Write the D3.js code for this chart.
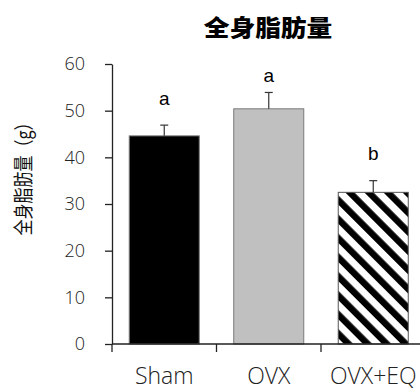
<!DOCTYPE html>
<html>
<head>
<meta charset="utf-8">
<script src="https://cdn.jsdelivr.net/npm/d3@7/dist/d3.min.js"></script>
<style>
  html, body { margin: 0; padding: 0; background: #fff; }
  svg { display: block; }
</style>
</head>
<body>
<svg id="chart" width="420" height="390"></svg>
<script>
// Whole-body fat mass by group
const groups = ["Sham", "OVX", "OVX+EQ"];
const means = [44.6, 50.4, 32.5];
const errors = [2.3, 3.5, 2.5];
const letters = ["a", "a", "b"];
const letterLevels = [51.2, 56.1, 39.4];
const yTicks = [0, 10, 20, 30, 40, 50, 60];

const svg = d3.select("#chart");
const x = d3.scaleBand().domain(groups).range([112, 425.5]).paddingInner(0.33).paddingOuter(0.165);
const y = d3.scaleLinear().domain([0, 60]).range([344, 64]);

// diagonal hatch fill
const defs = svg.append("defs");
const pat = defs.append("pattern")
  .attr("id", "hatch").attr("patternUnits", "userSpaceOnUse")
  .attr("width", 13.5).attr("height", 13.5)
  .attr("patternTransform", "rotate(-45)");
pat.append("rect").attr("width", 13.5).attr("height", 13.5).attr("fill", "#fff");
pat.append("rect").attr("width", 6.5).attr("height", 13.5).attr("fill", "#000");

const fills = ["#000000", "#c0c0c0", "url(#hatch)"];
const strokes = ["#7a7a7a", "#7a7a7a", "#555555"];

// title
svg.append("text")
  .attr("transform", "translate(268,26) scale(1.12,1)")
  .attr("text-anchor", "middle")
  .attr("dominant-baseline", "central")
  .attr("font-family", "Noto Sans CJK SC")
  .attr("font-weight", 900)
  .attr("font-size", 23)
  .attr("fill", "#000")
  .text("全身脂肪量");

// y axis title
svg.append("text")
  .attr("transform", "translate(22.5,175) scale(1.25,1) rotate(-90)")
  .attr("text-anchor", "middle")
  .attr("dominant-baseline", "central")
  .attr("font-family", "Noto Sans CJK SC")
  .attr("font-size", 16)
  .attr("fill", "#111")
  .text("全身脂肪量（g）");

// bars
svg.append("g").selectAll("rect").data(groups).join("rect")
  .attr("x", d => x(d))
  .attr("y", (d, i) => y(means[i]))
  .attr("width", x.bandwidth())
  .attr("height", (d, i) => y(0) - y(means[i]))
  .attr("fill", (d, i) => fills[i])
  .attr("stroke", (d, i) => strokes[i])
  .attr("stroke-width", 1);

// error bars (upper only)
const eb = svg.append("g").attr("stroke", "#333").attr("stroke-width", 1.2);
groups.forEach((g, i) => {
  const cx = x(g) + x.bandwidth() / 2;
  eb.append("line").attr("x1", cx).attr("x2", cx)
    .attr("y1", y(means[i])).attr("y2", y(means[i] + errors[i]));
  eb.append("line").attr("x1", cx - 4).attr("x2", cx + 4)
    .attr("y1", y(means[i] + errors[i])).attr("y2", y(means[i] + errors[i]));
});

// significance letters
svg.append("g").selectAll("text").data(groups).join("text")
  .attr("x", d => x(d) + x.bandwidth() / 2)
  .attr("y", (d, i) => y(letterLevels[i]))
  .attr("text-anchor", "middle")
  .attr("font-family", "Liberation Sans, Arial, sans-serif")
  .attr("font-size", 19)
  .attr("fill", "#000")
  .text((d, i) => letters[i]);

// y axis
const yAxis = svg.append("g").attr("transform", "translate(112,0)")
  .call(d3.axisLeft(y).tickValues(yTicks).tickSize(7).tickPadding(20).tickSizeOuter(0));
yAxis.select(".domain").attr("stroke", "#222").attr("stroke-width", 1.3);
yAxis.selectAll(".tick line").attr("stroke", "#222").attr("stroke-width", 1.3);
yAxis.selectAll(".tick text")
  .attr("font-family", "Open Sans, sans-serif")
  .attr("font-weight", 300)
  .attr("font-size", 18)
  .attr("fill", "#222");

// x axis with ticks at category boundaries
const xAxisG = svg.append("g");
xAxisG.append("line")
  .attr("x1", 112).attr("x2", 420).attr("y1", 344).attr("y2", 344)
  .attr("stroke", "#222").attr("stroke-width", 1.3);
const bounds = groups.map((g, i) => x.range()[0] + i * x.step());
xAxisG.selectAll(".bt").data(groups).join("line")
  .attr("x1", (d, i) => bounds[i]).attr("x2", (d, i) => bounds[i])
  .attr("y1", 344).attr("y2", 352)
  .attr("stroke", "#222").attr("stroke-width", 1.3);
xAxisG.selectAll("text").data(groups).join("text")
  .attr("x", d => x(d) + x.bandwidth() / 2)
  .attr("y", 384)
  .attr("text-anchor", "middle")
  .attr("font-family", "Open Sans, sans-serif")
  .attr("font-weight", 300)
  .attr("font-size", 23)
  .attr("fill", "#222")
  .text(d => d);
</script>
</body>
</html>
